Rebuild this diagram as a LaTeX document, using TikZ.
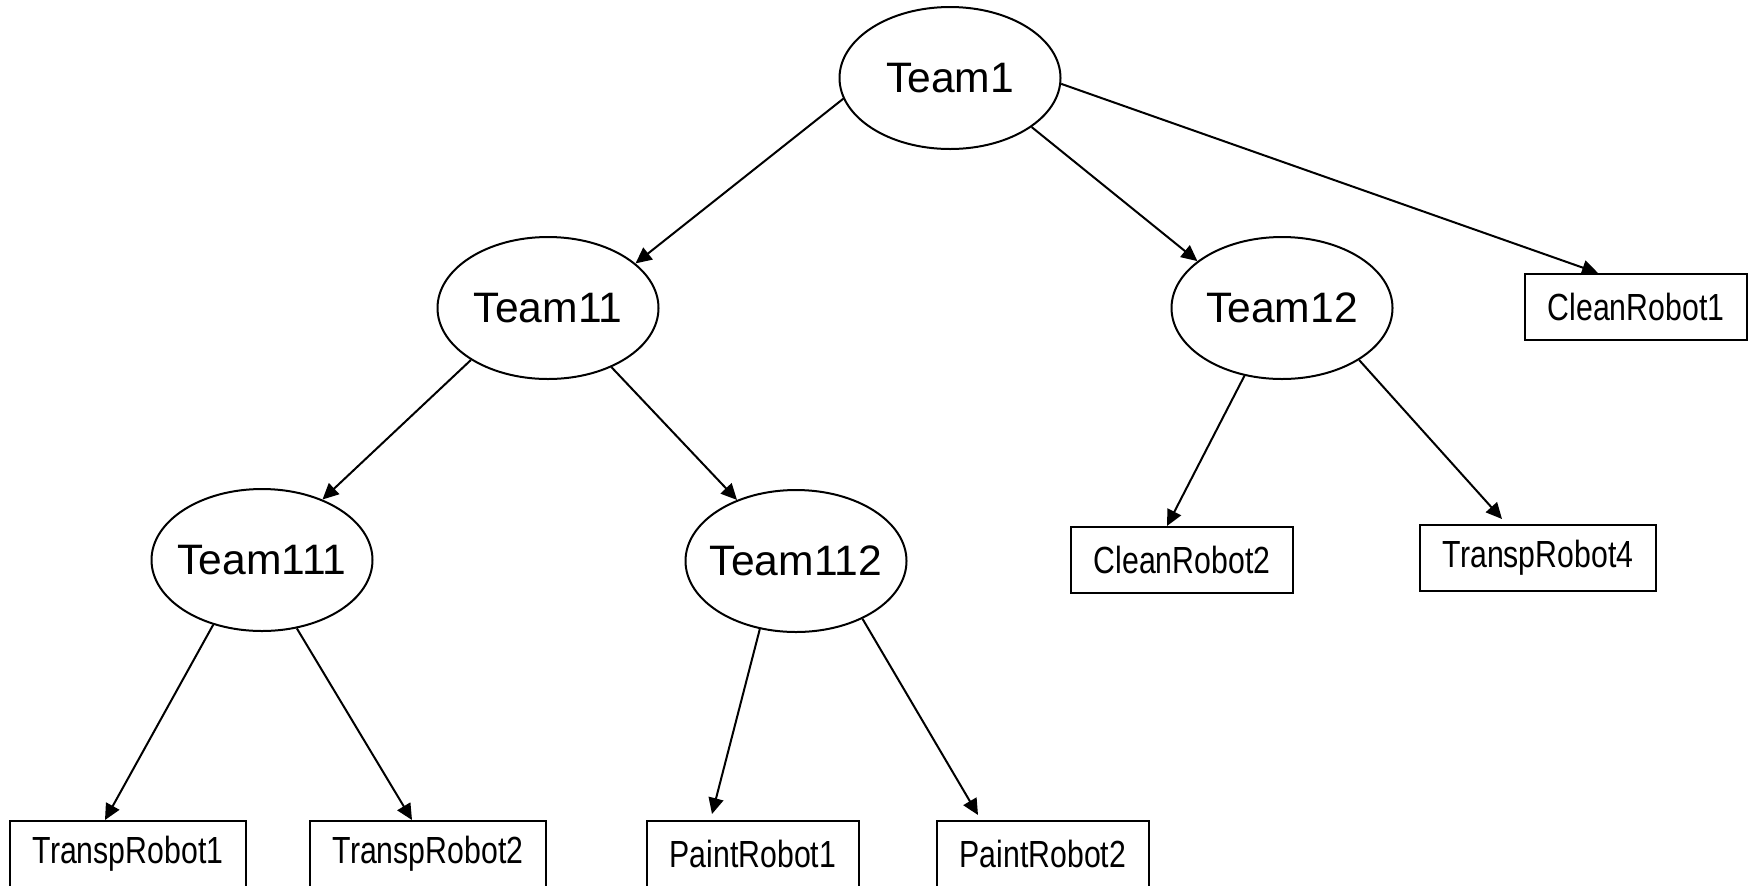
\documentclass[tikz,border=0pt]{standalone}
\usepackage{fontspec}
\setmainfont{Liberation Sans}
\newfontfamily\narrowfont[FakeStretch=0.8]{Liberation Sans}
\usetikzlibrary{shapes.geometric, arrows.meta, positioning, calc}

\begin{document}
\begin{tikzpicture}[
    x=0.5pt, y=-0.5pt,
    % Styles
    team/.style={ellipse, draw=black, line width=1pt, minimum width=110.5pt, minimum height=71pt, inner xsep=-25pt, inner ysep=0pt, font=\fontsize{21.3}{24}\selectfont},
    robot/.style={rectangle, draw=black, line width=1pt, minimum height=33pt, inner xsep=11.5pt, inner ysep=0pt, font=\narrowfont\fontsize{18.9}{22}\selectfont},
    arrow/.style={-{Triangle[length=8pt, width=7.5pt]}, line width=1pt}
]
    \useasboundingbox (0,0) rectangle (1750,885);

    % Teams
    \node[team] (team1) at (950,78) {Team1};
    \node[team] (team11) at (548,308) {Team11};
    \node[team] (team12) at (1282,308) {Team12};
    \node[team] (team111) at (262,560) {Team111};
    \node[team] (team112) at (796,561) {Team112};

    % Robots
    \node[robot] (clean1) at (1636,307) {CleanRobot1};
    \node[robot] (clean2) at (1182,560) {CleanRobot2};
    \node[robot] (transp4) at (1538,558) {TranspRobot4};
    \node[robot] (transp1) at (128,854) {TranspRobot1};
    \node[robot] (transp2) at (428,854) {TranspRobot2};
    \node[robot] (paint1) at (753,854) {PaintRobot1};
    \node[robot] (paint2) at (1043,854) {PaintRobot2};

    % Arrows
    \draw[arrow] (team1.191) -- (team11.27);
    \draw[arrow] (team1.329) -- (team12.151);
    \draw[arrow] (team1.357) -- ([xshift=-19pt]clean1.north);
    \draw[arrow] (team11.214) -- (team111.45);
    \draw[arrow] (team11.317) -- (team112.134);
    \draw[arrow] (team12.241) -- ([xshift=-7.5pt]clean2.north);
    \draw[arrow] (team12.326) -- ([xshift=-18pt, yshift=2.5pt]transp4.north);
    \draw[arrow] (team111.233) -- ([xshift=-11.5pt]transp1.north);
    \draw[arrow] (team111.297) -- ([xshift=-8pt]transp2.north);
    \draw[arrow] (team112.242) -- ([xshift=-20.5pt, yshift=3pt]paint1.north);
    \draw[arrow] (team112.319) -- ([xshift=-32.5pt, yshift=2.5pt]paint2.north);
\end{tikzpicture}
\end{document}
